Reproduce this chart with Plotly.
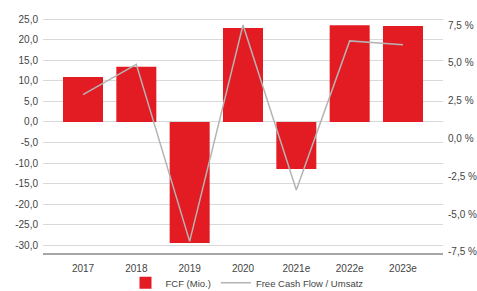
import plotly.graph_objects as go

categories = ["2017", "2018", "2019", "2020", "2021e", "2022e", "2023e"]
fcf = [10.9, 13.4, -29.4, 22.8, -11.4, 23.5, 23.3]
fcf_margin = [2.9, 4.9, -6.8, 7.5, -3.4, 6.45, 6.2]
left_ticks = [25, 20, 15, 10, 5, 0, -5, -10, -15, -20, -25, -30]
left_labels = ["25,0", "20,0", "15,0", "10,0", "5,0", "0,0", "-5,0", "-10,0", "-15,0",
               "-20,0", "-25,0", "-30,0"]
right_ticks = [7.5, 5, 2.5, 0, -2.5, -5, -7.5]
right_labels = ["7,5 %", "5,0 %", "2,5 %", "0,0 %", "-2,5 %", "-5,0 %", "-7,5 %"]

fig = go.Figure()
fig.add_trace(go.Bar(x=categories, y=fcf, name="FCF (Mio.)", marker_color="#e31b23",
                     marker_line_width=0))
fig.add_trace(go.Scatter(x=categories, y=fcf_margin, name="Free Cash Flow / Umsatz",
                         mode="lines", line=dict(color="#b4b4b4", width=1.5), yaxis="y2"))

font = dict(family="Liberation Sans, Arial, sans-serif", size=10, color="#444444")
fig.update_layout(
    width=477, height=291,
    margin=dict(l=43, r=34, t=12, b=38, autoexpand=False),
    paper_bgcolor="white", plot_bgcolor="white",
    separators=",.",
    font=font,
    bargap=0.25,
    showlegend=True,
    legend=dict(orientation="h", x=0.51, xanchor="center", yref="container", y=0.028,
                yanchor="middle", font=dict(size=9.5, color="#444444"), itemwidth=30,
                bgcolor="rgba(0,0,0,0)", tracegroupgap=0),
    xaxis=dict(range=[-0.75, 6.75], showgrid=False, showline=True, linecolor="#a6a6a6",
               linewidth=2, ticks="", tickfont=dict(size=10), ticklabelstandoff=5),
    yaxis=dict(range=[-31.8, 26.7], tickmode="array", tickvals=left_ticks, ticktext=left_labels,
               showgrid=True, gridcolor="#d9d9d9", gridwidth=1, showline=False,
               zeroline=False, ticks="", ticklabelstandoff=4),
    yaxis2=dict(range=[-7.57, 8.36], overlaying="y", side="right",
                tickmode="array", tickvals=right_ticks, ticktext=right_labels,
                ticklabeloverflow="allow", showline=False,
                showgrid=False, zeroline=False, ticks="", tickfont=dict(size=10),
                ticklabelstandoff=4),
)
fig.write_html("out.html", config={"displayModeBar": False},
               post_script="document.body.style.margin='0';document.body.style.overflow='hidden';")
